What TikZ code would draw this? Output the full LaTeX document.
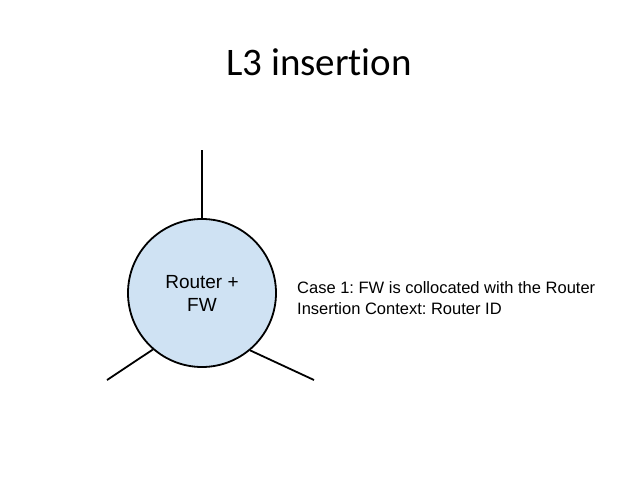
\documentclass[tikz,border=0pt]{standalone}
\usepackage{fontspec}
\setmainfont{Liberation Sans}
\newfontfamily\titlefont[Ligatures=NoCommon]{Carlito}
\usetikzlibrary{positioning}
\definecolor{rtrblue}{RGB}{207,226,243}
\frenchspacing

\begin{document}
\begin{tikzpicture}[x=1pt, y=-1pt,
    rtrnode/.style={draw, line width=1.8pt, circle, fill=rtrblue, minimum size=148pt, inner sep=0pt, align=center, font=\fontsize{19}{23}\selectfont},
    link/.style={line width=1.8pt},
    note/.style={align=left, anchor=north west, inner sep=0pt, font=\fontsize{16.5}{21}\selectfont}
  ]
    \useasboundingbox (0,0) rectangle (638,479);
    \node[font=\titlefont\fontsize{39}{44}\selectfont] (title) at (319,62) {L3 insertion};
    \node[rtrnode] (rtr) at (202,293) {Router +\\FW};
    \node[note] (case) at (297,281) {Case 1: FW is collocated with the Router\\Insertion Context: Router ID};

    \coordinate (top) at (202,150);
    \coordinate (bl) at (107,380);
    \coordinate (br) at (314,380);

    \draw[link] (rtr.90) -- (top);
    \draw[link] (rtr.229) -- (bl);
    \draw[link] (rtr.310) -- (br);
  \end{tikzpicture}
\end{document}
